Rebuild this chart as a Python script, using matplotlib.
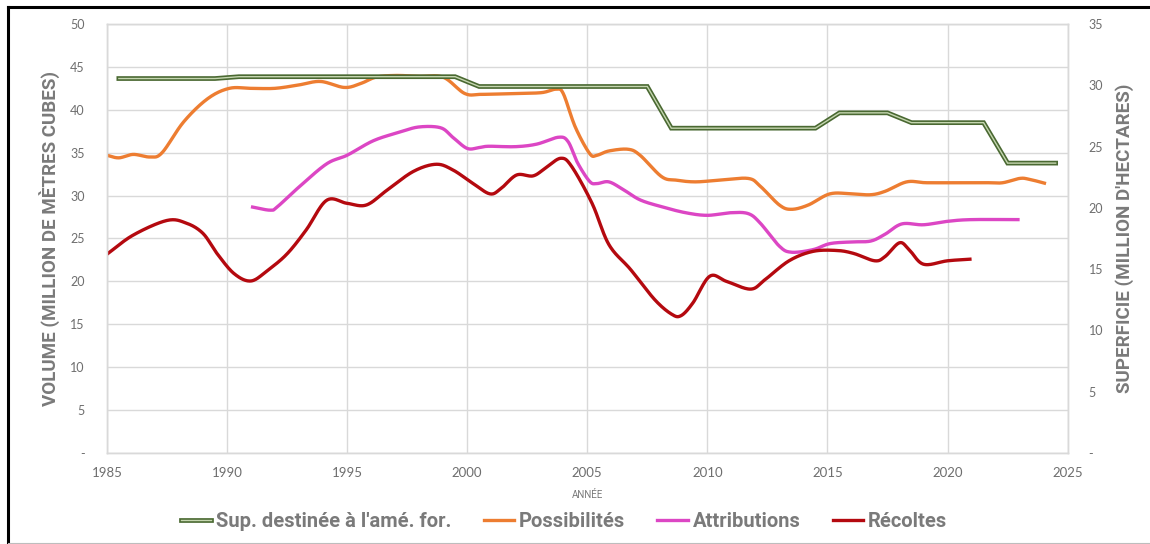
import numpy as np
import matplotlib
matplotlib.use("Agg")
import matplotlib.pyplot as plt
from matplotlib.lines import Line2D
from matplotlib.legend_handler import HandlerTuple

# ---- data -------------------------------------------------------------
# Forest area set aside for management (right axis, million ha), fiscal years
area_years = [1985.5, 1986.5, 1987.5, 1988.5, 1989.5, 1990.5, 1991.5, 1992.5,
              1993.5, 1994.5, 1995.5, 1996.5, 1997.5, 1998.5, 1999.5, 2000.5,
              2001.5, 2002.5, 2003.5, 2004.5, 2005.5, 2006.5, 2007.5, 2008.5,
              2009.5, 2010.5, 2011.5, 2012.5, 2013.5, 2014.5, 2015.5, 2016.5,
              2017.5, 2018.5, 2019.5, 2020.5, 2021.5, 2022.5, 2023.5, 2024.5]
area_values = [30.55, 30.55, 30.55, 30.55, 30.55, 30.7, 30.7, 30.7,
               30.7, 30.7, 30.7, 30.7, 30.7, 30.7, 30.7, 29.9,
               29.9, 29.9, 29.9, 29.9, 29.9, 29.9, 29.9, 26.5,
               26.5, 26.5, 26.5, 26.5, 26.5, 26.5, 27.75, 27.75,
               27.75, 26.95, 26.95, 26.95, 26.95, 23.65, 23.65, 23.65]

# Allowable cut (left axis, million m3)
poss_years = [1985.0, 1985.5, 1986.1, 1986.8, 1987.3, 1988.2, 1989.2, 1990.1,
              1991.0, 1992.0, 1993.0, 1993.9, 1994.9, 1995.6, 1996.2, 1997.0,
              1998.0, 1999.0, 1999.9, 2000.6, 2002.0, 2003.1, 2003.7, 2004.0,
              2004.5, 2005.1, 2005.4, 2005.9, 2006.7, 2007.2, 2008.1, 2008.7,
              2009.5, 2010.5, 2011.7, 2012.2, 2013.0, 2013.5, 2014.2, 2015.1,
              2016.0, 2016.8, 2017.4, 2018.3, 2019.1, 2020.3, 2021.7, 2022.3,
              2023.0, 2023.4, 2024.1]
poss_values = [34.7, 34.4, 34.8, 34.5, 35.0, 38.6, 41.3, 42.5,
               42.5, 42.5, 42.9, 43.3, 42.6, 43.1, 43.8, 44.0,
               43.9, 43.8, 41.9, 41.8, 41.9, 42.0, 42.4, 41.9,
               38.0, 34.9, 34.7, 35.2, 35.4, 34.7, 32.2, 31.8,
               31.6, 31.8, 32.0, 31.1, 28.9, 28.4, 28.9, 30.2,
               30.2, 30.1, 30.5, 31.6, 31.5, 31.5, 31.5, 31.5,
               32.0, 31.9, 31.4]

# Allocations (left axis, million m3)
attr_years = [1991.0, 1991.8, 1992.1, 1993.0, 1994.15, 1995.0, 1996.1, 1997.2,
              1998.0, 1998.9, 1999.4, 2000.0, 2000.5, 2000.9, 2002.0, 2002.9,
              2003.8, 2004.2, 2004.6, 2005.1, 2005.4, 2005.9, 2006.5, 2007.2,
              2008.1, 2009.1, 2010.0, 2010.95, 2011.7, 2012.2, 2013.0, 2013.5,
              2014.4, 2015.1, 2016.0, 2016.8, 2017.4, 2018.1, 2019.0, 2020.0,
              2021.0, 2023.0]
attr_values = [28.7, 28.3, 28.7, 31.0, 33.7, 34.7, 36.4, 37.4,
               38.0, 37.9, 36.8, 35.5, 35.6, 35.75, 35.7, 36.0,
               36.8, 36.3, 33.8, 31.65, 31.4, 31.6, 30.7, 29.5,
               28.7, 28.0, 27.7, 28.0, 27.9, 26.8, 24.1, 23.4,
               23.7, 24.4, 24.6, 24.7, 25.5, 26.7, 26.6, 27.0,
               27.2, 27.2]

# Harvest (left axis, million m3)
harv_years = [1985.0, 1986.1, 1987.5, 1988.3, 1989.0, 1989.6, 1990.3, 1991.0,
              1991.7, 1992.5, 1993.3, 1994.15, 1995.0, 1995.8, 1996.65, 1997.75,
              1998.7, 1999.4, 2000.25, 2000.95, 2001.4, 2002.06, 2002.75, 2003.3,
              2003.9, 2004.35, 2005.2, 2005.9, 2006.8, 2007.8, 2008.5, 2008.9,
              2009.4, 2010.1, 2010.8, 2011.8, 2012.4, 2013.4, 2014.4, 2015.4,
              2016.1, 2016.97, 2017.4, 2018.0, 2018.4, 2019.0, 2020.0, 2021.0]
harv_values = [23.16, 25.4, 27.1, 26.8, 25.6, 23.2, 20.9, 20.05,
               21.3, 23.2, 26.0, 29.45, 29.1, 28.9, 30.6, 32.8,
               33.65, 33.0, 31.4, 30.2, 30.8, 32.4, 32.3, 33.3,
               34.35, 33.4, 29.1, 24.3, 21.4, 17.9, 16.2, 16.0,
               17.5, 20.6, 20.0, 19.1, 20.2, 22.4, 23.5, 23.6,
               23.25, 22.4, 22.9, 24.5, 23.7, 22.0, 22.4, 22.6]

left_ticks = [0, 5, 10, 15, 20, 25, 30, 35, 40, 45, 50]
left_labels = ["-", "5", "10", "15", "20", "25", "30", "35", "40", "45", "50"]
right_ticks = [0, 5, 10, 15, 20, 25, 30, 35]
right_labels = ["-", "5", "10", "15", "20", "25", "30", "35"]
year_ticks = [1985, 1990, 1995, 2000, 2005, 2010, 2015, 2020, 2025]

series_names = ["Sup. destinée à l'amé. for.", "Possibilités", "Attributions", "Récoltes"]

# ---- styling ------------------------------------------------------------
GREEN_DARK = "#4a6932"
GREEN_LIGHT = "#c5d6b0"
ORANGE = "#ed7d31"
MAGENTA = "#dc46c4"
RED = "#b4090f"
GRID = "#d9d9d9"
TEXT = "#7a7a7a"
TICK = "#6e6e6e"

TICK_FONT = ["Lato", "DejaVu Sans"]
BOLD_FONT = ["Roboto", "DejaVu Sans"]


def smooth(xs, ys, n=24):
    """Catmull-Rom rendering of a polyline, similar to a smoothed line chart."""
    x = np.asarray(xs, float)
    y = np.asarray(ys, float)
    px = np.concatenate([[2 * x[0] - x[1]], x, [2 * x[-1] - x[-2]]])
    py = np.concatenate([[2 * y[0] - y[1]], y, [2 * y[-1] - y[-2]]])
    out_x, out_y = [], []
    t = np.linspace(0, 1, n, endpoint=False)
    h00 = 2 * t**3 - 3 * t**2 + 1
    h10 = t**3 - 2 * t**2 + t
    h01 = -2 * t**3 + 3 * t**2
    h11 = t**3 - t**2
    for i in range(1, len(px) - 2):
        for arr, out in ((px, out_x), (py, out_y)):
            p0, p1, p2, p3 = arr[i - 1], arr[i], arr[i + 1], arr[i + 2]
            m1 = (p2 - p0) / 2
            m2 = (p3 - p1) / 2
            out.extend(h00 * p1 + h10 * m1 + h01 * p2 + h11 * m2)
    out_x.append(x[-1])
    out_y.append(y[-1])
    return np.array(out_x), np.array(out_y)


fig = plt.figure(figsize=(11.5, 5.44), dpi=100)
ax = fig.add_axes([0.0929, 0.1673, 0.8355, 0.7886])
ax2 = ax.twinx()

ax.set_xlim(1985, 2025)
ax.set_ylim(0, 50)
ax2.set_ylim(0, 35)

ax.set_xticks(year_ticks)
ax.set_xticklabels([str(y) for y in year_ticks])
ax.set_yticks(left_ticks)
ax.set_yticklabels(left_labels)
ax2.set_yticks(right_ticks)
ax2.set_yticklabels(right_labels)

ax.grid(True, color=GRID, linewidth=1.0)
ax.set_axisbelow(True)
for a in (ax, ax2):
    for s in a.spines.values():
        s.set_color(GRID)
        s.set_linewidth(1.0)
    a.tick_params(length=0, colors=TICK)

for lab in ax.get_yticklabels() + ax2.get_yticklabels():
    lab.set_fontfamily(TICK_FONT)
    lab.set_fontsize(9)
for lab in ax.get_xticklabels():
    lab.set_fontfamily(TICK_FONT)
    lab.set_fontsize(9.5)
ax.tick_params(axis="y", pad=16)
ax2.tick_params(axis="y", pad=15)
ax.tick_params(axis="x", pad=10)

ax.set_ylabel("VOLUME (MILLION DE MÈTRES CUBES)", fontfamily=BOLD_FONT,
              fontweight="bold", fontsize=13.5, color=TEXT, labelpad=7)
ax2.set_ylabel("SUPERFICIE (MILLION D'HECTARES)", fontfamily=BOLD_FONT,
               fontweight="bold", fontsize=13.5, color=TEXT, labelpad=9)
ax.set_xlabel("ANNÉE", fontfamily=BOLD_FONT, fontsize=7, color=TEXT, labelpad=8)

# area line drawn as a double line: dark outline with a light core
ax2.plot(area_years, area_values, color=GREEN_DARK, linewidth=3.4,
         solid_joinstyle="miter", zorder=3)
ax2.plot(area_years, area_values, color=GREEN_LIGHT, linewidth=1.0,
         solid_joinstyle="miter", zorder=4)

for xs, ys, col in ((poss_years, poss_values, ORANGE),
                    (attr_years, attr_values, MAGENTA),
                    (harv_years, harv_values, RED)):
    sx, sy = smooth(xs, ys)
    ax.plot(sx, sy, color=col, linewidth=2.4, solid_capstyle="butt", zorder=3)

ax2.set_zorder(ax.get_zorder() + 1)
ax2.patch.set_visible(False)

h_area = (Line2D([], [], color=GREEN_DARK, linewidth=3.4),
          Line2D([], [], color=GREEN_LIGHT, linewidth=1.0))
h_poss = Line2D([], [], color=ORANGE, linewidth=2.4)
h_attr = Line2D([], [], color=MAGENTA, linewidth=2.4)
h_harv = Line2D([], [], color=RED, linewidth=2.4)
leg = fig.legend([h_area, h_poss, h_attr, h_harv], series_names,
                 handler_map={tuple: HandlerTuple(ndivide=1)},
                 loc="center", bbox_to_anchor=(0.4904, 0.042), ncol=4,
                 frameon=False, handlelength=1.5, handletextpad=0.25,
                 columnspacing=1.6,
                 prop={"family": BOLD_FONT, "weight": "bold", "size": 14.5})
for t in leg.get_texts():
    t.set_color(TEXT)

# outer frame
fig.add_artist(Line2D([0.007, 1.0], [1 - 7 / 544, 1 - 7 / 544],
                      transform=fig.transFigure, color="black", linewidth=2.2))
fig.add_artist(Line2D([0.007, 0.007], [0.0, 1 - 7 / 544],
                      transform=fig.transFigure, color="black", linewidth=2.2))
fig.add_artist(Line2D([0.007, 1.0], [0.002, 0.002],
                      transform=fig.transFigure, color="#bdbdbd", linewidth=0.8))

fig.savefig("out.png", dpi=100, facecolor="white")
